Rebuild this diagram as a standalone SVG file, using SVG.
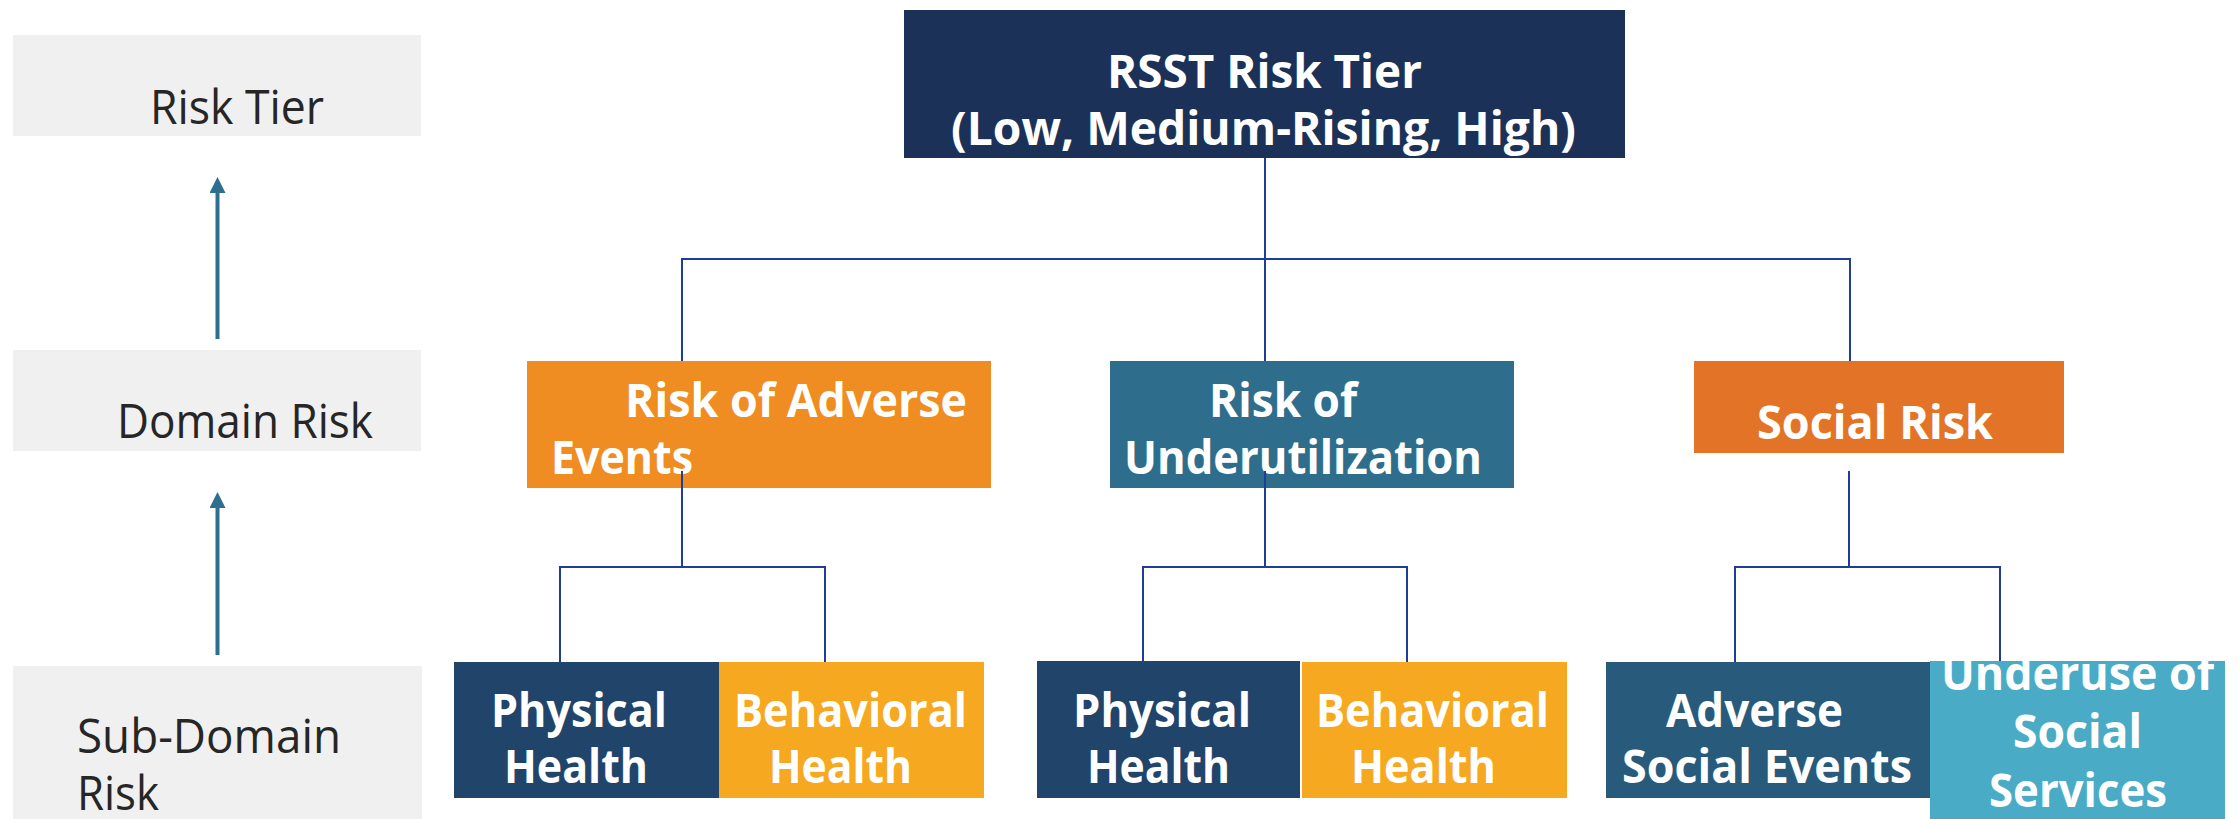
<svg xmlns="http://www.w3.org/2000/svg" width="2238" height="819" viewBox="0 0 2238 819">
<style>
.lab{fill:#f0f0f0}
.lt{font-family:"Open Sans","Liberation Sans",sans-serif;font-size:48px;fill:#262626}
.bt{font-family:"Open Sans","Liberation Sans",sans-serif;font-size:46px;font-weight:700;fill:#ffffff}
.con{stroke:#1f3f97;stroke-width:2;fill:none}
.arr{stroke:#2e6e8e;stroke-width:4;fill:none}
</style>
<defs>
<marker id="ah" markerUnits="userSpaceOnUse" markerWidth="16" markerHeight="16" refX="0" refY="8" orient="auto">
<path d="M0,0 L16,8 L0,16 z" fill="#2e6e8e"/>
</marker>
</defs>
<rect width="2238" height="819" fill="#ffffff"/>

<g id="level-risk-tier">
<rect class="lab" x="13" y="35" width="408" height="101"/>
<text class="lt" x="150" y="124" textLength="174" lengthAdjust="spacingAndGlyphs">Risk Tier</text>
</g>
<g id="level-domain-risk">
<rect class="lab" x="13" y="350" width="408" height="101"/>
<text class="lt" x="117" y="438" textLength="256" lengthAdjust="spacingAndGlyphs">Domain Risk</text>
</g>
<g id="level-sub-domain-risk">
<rect class="lab" x="13" y="666" width="409" height="153"/>
<text class="lt" x="77" y="753" textLength="264" lengthAdjust="spacingAndGlyphs">Sub-Domain</text>
<text class="lt" x="77" y="810" textLength="82" lengthAdjust="spacingAndGlyphs">Risk</text>
</g>

<g id="level-arrows">
<line class="arr" x1="217.5" y1="339" x2="217.5" y2="193" marker-end="url(#ah)"/>
<line class="arr" x1="217.5" y1="655" x2="217.5" y2="508" marker-end="url(#ah)"/>
</g>

<g id="rsst-risk-tier">
<rect x="904" y="10" width="721" height="148" fill="#1b3158"/>
<text class="bt" x="1107" y="88" textLength="315" lengthAdjust="spacingAndGlyphs">RSST Risk Tier</text>
<text class="bt" x="951" y="145" textLength="625" lengthAdjust="spacingAndGlyphs">(Low, Medium-Rising, High)</text>
</g>

<g id="risk-adverse-events">
<rect x="527" y="361" width="464" height="127" fill="#ef8c22"/>
<text class="bt" x="625" y="417" textLength="342" lengthAdjust="spacingAndGlyphs">Risk of Adverse</text>
<text class="bt" x="551" y="474" textLength="142" lengthAdjust="spacingAndGlyphs">Events</text>
</g>

<g id="risk-underutilization">
<rect x="1110" y="361" width="404" height="127" fill="#2e6e8c"/>
<text class="bt" x="1209" y="417" textLength="148" lengthAdjust="spacingAndGlyphs">Risk of</text>
<text class="bt" x="1124" y="474" textLength="358" lengthAdjust="spacingAndGlyphs">Underutilization</text>
</g>

<g id="social-risk">
<rect x="1694" y="361" width="370" height="92" fill="#e37326"/>
<text class="bt" x="1757" y="439" textLength="236" lengthAdjust="spacingAndGlyphs">Social Risk</text>
</g>

<g id="connectors">
<path class="con" d="M1265,158 V361"/>
<path class="con" d="M682,361 V259 H1850 V361"/>
<path class="con" d="M682,471 V567"/>
<path class="con" d="M560,662 V567 H825 V662"/>
<path class="con" d="M1265,471 V567"/>
<path class="con" d="M1143,662 V567 H1407 V662"/>
<path class="con" d="M1849,471 V567"/>
<path class="con" d="M1735,662 V567 H2000 V662"/>
</g>

<g id="physical-health-1">
<rect x="454" y="662" width="265" height="136" fill="#21446a"/>
<text class="bt" x="491" y="727" textLength="176" lengthAdjust="spacingAndGlyphs">Physical</text>
<text class="bt" x="504" y="783" textLength="144" lengthAdjust="spacingAndGlyphs">Health</text>
</g>
<g id="behavioral-health-1">
<rect x="719" y="662" width="265" height="136" fill="#f6a821"/>
<text class="bt" x="734" y="727" textLength="233" lengthAdjust="spacingAndGlyphs">Behavioral</text>
<text class="bt" x="769" y="783" textLength="143" lengthAdjust="spacingAndGlyphs">Health</text>
</g>
<g id="physical-health-2">
<rect x="1037" y="661" width="263" height="137" fill="#21446a"/>
<text class="bt" x="1073" y="727" textLength="178" lengthAdjust="spacingAndGlyphs">Physical</text>
<text class="bt" x="1087" y="783" textLength="143" lengthAdjust="spacingAndGlyphs">Health</text>
</g>
<g id="behavioral-health-2">
<rect x="1302" y="662" width="265" height="136" fill="#f6a821"/>
<text class="bt" x="1316" y="727" textLength="233" lengthAdjust="spacingAndGlyphs">Behavioral</text>
<text class="bt" x="1351" y="783" textLength="145" lengthAdjust="spacingAndGlyphs">Health</text>
</g>
<g id="adverse-social-events">
<rect x="1606" y="662" width="324" height="136" fill="#285a7c"/>
<text class="bt" x="1666" y="727" textLength="177" lengthAdjust="spacingAndGlyphs">Adverse</text>
<text class="bt" x="1622" y="783" textLength="290" lengthAdjust="spacingAndGlyphs">Social Events</text>
</g>
<g id="underuse-social-services">
<rect x="1930" y="661" width="295" height="158" fill="#4aabc6"/>
<text class="bt" x="1941" y="690" textLength="273" lengthAdjust="spacingAndGlyphs">Underuse of</text>
<text class="bt" x="2013" y="748" textLength="129" lengthAdjust="spacingAndGlyphs">Social</text>
<text class="bt" x="1989" y="807" textLength="178" lengthAdjust="spacingAndGlyphs">Services</text>
</g>
</svg>
